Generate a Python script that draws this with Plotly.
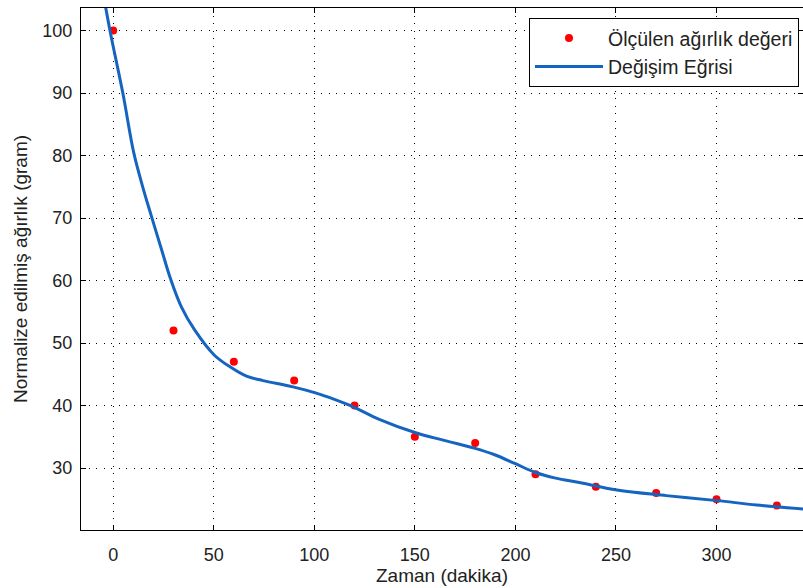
import plotly.graph_objects as go

# Measured points
time_min = [0, 30, 60, 90, 120, 150, 180, 210, 240, 270, 300, 330]
weight = [100, 52, 47, 44, 40, 35, 34, 29, 27, 26, 25, 24]

# Fitted curve
curve_x = [-5, -1.6, 4.8, 10.2, 14.5, 19, 24, 28.6, 33.9, 40.5, 50.2, 58.1, 66.3, 74.5, 89.4, 101, 110,
           119.4, 132.3, 150, 165, 179.5, 190, 200, 210, 220, 231.8, 250.5, 275, 300.3, 320, 345]
curve_y = [106, 100, 90, 80.5, 75.2, 70.3, 65.0, 60.2, 55.8, 52.1, 48.1, 46.2, 44.7, 44.0, 43.0, 42.0, 41.0,
           39.8, 37.8, 35.7, 34.4, 33.2, 32.1, 30.7, 29.3, 28.4, 27.7, 26.5, 25.6, 24.8, 24.1, 23.4]

x_ticks = [0, 50, 100, 150, 200, 250, 300]
y_ticks = [30, 40, 50, 60, 70, 80, 90, 100]

FONT = "Liberation Sans, Arial"
TXT = "#222222"

fig = go.Figure()
fig.add_trace(go.Scatter(x=time_min, y=weight, mode="markers", name="Ölçülen ağırlık değeri",
                         marker=dict(color="#ff0000", size=8)))
fig.add_trace(go.Scatter(x=curve_x, y=curve_y, mode="lines", name="Değişim Eğrisi",
                         line=dict(color="#1565c0", width=3, shape="spline", smoothing=1.0)))

axis_common = dict(showline=True, linecolor="black", linewidth=1, mirror="ticks",
                   ticks="inside", ticklen=5, tickcolor="black",
                   showgrid=True, gridcolor="black", gridwidth=1, griddash="1px,6.5px",
                   zeroline=False, automargin=False,
                   tickfont=dict(family=FONT, size=18, color=TXT))

fig.update_xaxes(range=[-16, 343], tickvals=x_ticks, ticklabelstandoff=8,
                 title=dict(text="Zaman (dakika)", font=dict(family=FONT, size=19, color=TXT), standoff=0),
                 **axis_common)
fig.update_yaxes(range=[20.1, 103.6], tickvals=y_ticks, ticklabelstandoff=4,
                 title=dict(text="Normalize edilmiş ağırlık (gram)", font=dict(family=FONT, size=19, color=TXT), standoff=9),
                 **axis_common)

fig.update_layout(width=803, height=588, margin=dict(l=81, r=0, t=8, b=58),
                  plot_bgcolor="white", paper_bgcolor="white",
                  legend=dict(x=0.6205, y=0.981, xanchor="left", yanchor="top",
                              bordercolor="black", borderwidth=1, bgcolor="white",
                              font=dict(family=FONT, size=19.5, color=TXT),
                              tracegroupgap=0, itemwidth=68),
                  showlegend=True)

fig.write_html("out.html", config={"displayModeBar": False},
               post_script="document.body.style.margin='0';document.body.style.overflow='hidden';")
